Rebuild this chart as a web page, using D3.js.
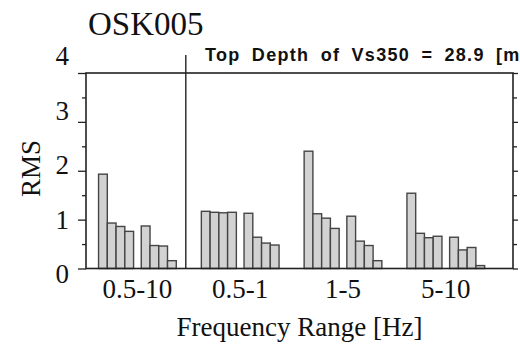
<!DOCTYPE html>
<html>
<head>
<meta charset="utf-8">
<script src="https://cdn.jsdelivr.net/npm/d3@7"></script>
<style>
  html, body { margin: 0; padding: 0; background: #fff; }
  svg { display: block; }
</style>
</head>
<body>
<svg id="chart" width="520" height="349"></svg>
<script>
// Frequency bands on the x axis
const frequencyRanges = ["0.5-10", "0.5-1", "1-5", "5-10"];
// Two sets of four bars per band (RMS values)
const rmsSetA = [
  [1.93, 0.93, 0.86, 0.76],
  [1.17, 1.15, 1.14, 1.15],
  [2.40, 1.12, 1.03, 0.82],
  [1.54, 0.72, 0.63, 0.66]
];
const rmsSetB = [
  [0.87, 0.47, 0.46, 0.16],
  [1.13, 0.64, 0.52, 0.48],
  [1.07, 0.56, 0.47, 0.16],
  [0.64, 0.38, 0.43, 0.06]
];
const setNames = ["A", "B"];
const barIndex = [0, 1, 2, 3];
const yMajorTicks = [0, 1, 2, 3, 4];
const yMinorTicks = [0.5, 1.5, 2.5, 3.5];
const stationName = "OSK005";
const depthNote = "Top Depth of Vs350 = 28.9 [m]";

const svg = d3.select("#chart");
const plotLeft = 86, plotRight = 513, plotTop = 73, plotBottom = 268.5;
const serif = "'Liberation Serif', 'Times New Roman', serif";
const sans = "'Liberation Sans', Arial, sans-serif";

const y = d3.scaleLinear().domain([0, 4]).range([plotBottom, plotTop]);
// tick numerals sit on their own slightly wider spacing
const yLabel = d3.scaleLinear().domain([0, 4]).range([283, 65]);

const xGroup = d3.scaleBand().domain(frequencyRanges).range([plotLeft, plotRight])
  .paddingInner(0.244).paddingOuter(0.199).align(0.307);
const xSet = d3.scaleBand().domain(setNames).range([0, xGroup.bandwidth()]).paddingInner(0.18);
const xBar = d3.scaleBand().domain(barIndex).range([0, xSet.bandwidth()]);

// axis ticks (outward on both sides)
const tickStyle = g => g.call(s => s.select(".domain").remove())
  .call(s => s.selectAll("line").attr("stroke", "#222").attr("stroke-width", 1.3))
  .call(s => s.selectAll("text").remove());
svg.append("g").attr("transform", `translate(${plotLeft},0)`)
  .call(d3.axisLeft(y).tickValues(yMajorTicks).tickSize(8)).call(tickStyle);
svg.append("g").attr("transform", `translate(${plotLeft},0)`)
  .call(d3.axisLeft(y).tickValues(yMinorTicks).tickSize(4)).call(tickStyle);
svg.append("g").attr("transform", `translate(${plotRight},0)`)
  .call(d3.axisRight(y).tickValues(yMajorTicks).tickSize(5)).call(tickStyle);
svg.append("g").attr("transform", `translate(${plotRight},0)`)
  .call(d3.axisRight(y).tickValues(yMinorTicks).tickSize(4)).call(tickStyle);

// bars
const rows = [];
frequencyRanges.forEach((r, gi) => {
  [rmsSetA, rmsSetB].forEach((set, si) => {
    set[gi].forEach((v, bi) => rows.push({ range: r, set: setNames[si], bar: bi, value: v }));
  });
});
svg.append("g").selectAll("rect").data(rows).join("rect")
  .attr("x", d => xGroup(d.range) + xSet(d.set) + xBar(d.bar))
  .attr("y", d => y(d.value))
  .attr("width", xBar.bandwidth())
  .attr("height", d => y(0) - y(d.value))
  .attr("fill", "#d2d2d2")
  .attr("stroke", "#454545")
  .attr("stroke-width", 1.4);

// frame
svg.append("rect").attr("x", plotLeft).attr("y", plotTop)
  .attr("width", plotRight - plotLeft).attr("height", plotBottom - plotTop)
  .attr("fill", "none").attr("stroke", "#222").attr("stroke-width", 1.6);

// divider between the full band and the sub-bands
const gapStart = xGroup(frequencyRanges[0]) + xGroup.bandwidth();
const divX = gapStart + (xGroup(frequencyRanges[1]) - gapStart) * 0.38;
svg.append("line").attr("x1", divX).attr("x2", divX).attr("y1", 55).attr("y2", plotBottom)
  .attr("stroke", "#222").attr("stroke-width", 1.4);

// y tick numerals
svg.append("g").selectAll("text").data(yMajorTicks).join("text")
  .attr("x", 69).attr("y", d => yLabel(d))
  .attr("text-anchor", "end")
  .attr("font-family", serif).attr("font-size", 27).attr("fill", "#111")
  .text(d => d);

// x tick labels
svg.append("g").selectAll("text").data(frequencyRanges).join("text")
  .attr("x", d => xGroup(d) + xGroup.bandwidth() / 2).attr("y", 298)
  .attr("text-anchor", "middle")
  .attr("font-family", serif).attr("font-size", 27).attr("fill", "#111")
  .text(d => d);

// axis titles
svg.append("text").attr("x", (plotLeft + plotRight) / 2).attr("y", 336)
  .attr("text-anchor", "middle")
  .attr("font-family", serif).attr("font-size", 27).attr("fill", "#111")
  .text("Frequency Range [Hz]");
svg.append("text").attr("transform", "translate(40,168.5) rotate(-90)")
  .attr("text-anchor", "middle")
  .attr("font-family", serif).attr("font-size", 27).attr("fill", "#111")
  .text("RMS");

// station name and depth note (the note runs past the right edge)
svg.append("text").attr("x", 88).attr("y", 35)
  .attr("font-family", serif).attr("font-size", 33).attr("fill", "#111")
  .text(stationName);
svg.append("text").attr("x", 205).attr("y", 61)
  .attr("font-family", sans).attr("font-size", 18).attr("font-weight", "bold")
  .attr("letter-spacing", 1.3).attr("word-spacing", 5).attr("fill", "#111")
  .text(depthNote);
</script>
</body>
</html>
